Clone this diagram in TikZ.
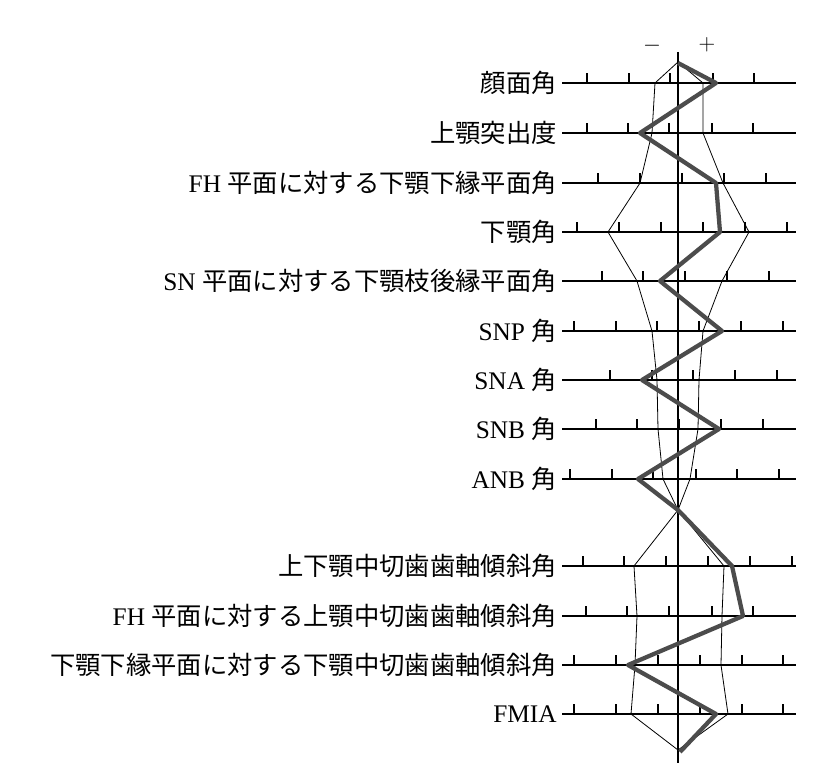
\documentclass[tikz,border=0pt]{standalone}
\usepackage{fontspec}
\setmainfont{Liberation Serif}
\newfontfamily\jp{Noto Sans CJK JP}
\begin{document}
\begin{tikzpicture}[x=0.75pt,y=-0.75pt,font=\fontsize{19}{22}\selectfont,
	axisline/.style={line width=1.3pt},
	sdline/.style={line width=0.6pt},
	patient/.style={line width=3.2pt,draw=black!70,line join=round}]
	\useasboundingbox (0,0) rectangle (829,784);

	\node (minus) at (652,46) {$-$};
	\node (plus) at (707,45) {$+$};
	\draw[axisline] (678,52) -- (678,763);

	% rows: y / label / ticks
	\foreach \y/\lab/\ticks [count=\i] in {
		83/{\jp 顔面角}/{587,629,670,713,754},
		133/{\jp 上顎突出度}/{587,628,669,712,753},
		183/{FH {\jp 平面に対する下顎下縁平面角}}/{598,640,682,724,766},
		232/{\jp 下顎角}/{577,619,661,703,745,787},
		281/{SN {\jp 平面に対する下顎枝後縁平面角}}/{602,643,685,727,769},
		331/{SNP {\jp 角}}/{574,616,657,699,741,783},
		380/{SNA {\jp 角}}/{610,652,693,735,777},
		429/{SNB {\jp 角}}/{596,637,679,721,763},
		479/{ANB {\jp 角}}/{570,612,653,696,737,779},
		566/{\jp 上下顎中切歯歯軸傾斜角}/{583,624,666,708,750,792},
		616/{FH {\jp 平面に対する上顎中切歯歯軸傾斜角}}/{586,627,669,712,753},
		665/{\jp 下顎下縁平面に対する下顎中切歯歯軸傾斜角}/{574,616,658,700,742,783},
		714/{FMIA}/{574,616,658,700,742,783}} {
		\node[anchor=east,inner sep=0pt] (lab\i) at (557,\y) {\lab};
		\coordinate (row\i) at (562,\y);
		\draw[axisline] (row\i) -- ++(234,0);
		\foreach \t in \ticks
			\draw[line width=0.8pt] (\t,\y) -- ++(0,-10);
	}

	% mean +/- SD
	\draw[sdline] (678,62) -- (655,83) -- (652,133) -- (640,183) -- (608,232) -- (637,281)
		-- (652,331) -- (657,380) -- (658,429) -- (663,479) -- (678,510) -- (634,566)
		-- (637,616) -- (635,665) -- (631,714) -- (678,750);
	\draw[sdline] (678,62) -- (703,83) -- (703,133) -- (723,183) -- (749,232) -- (722,281)
		-- (703,331) -- (699,380) -- (698,429) -- (690,479) -- (678,510) -- (724,566)
		-- (722,616) -- (721,665) -- (728,714) -- (678,750);

	% patient
	\draw[patient] (678,63) -- (716,83) -- (640,133) -- (716,183) -- (720,232) -- (660,281)
		-- (722,331) -- (642,380) -- (719,429) -- (638,479) -- (678,510) -- (732,566)
		-- (743,616) -- (628,665) -- (716,714) -- (680,752);
\end{tikzpicture}
\end{document}
